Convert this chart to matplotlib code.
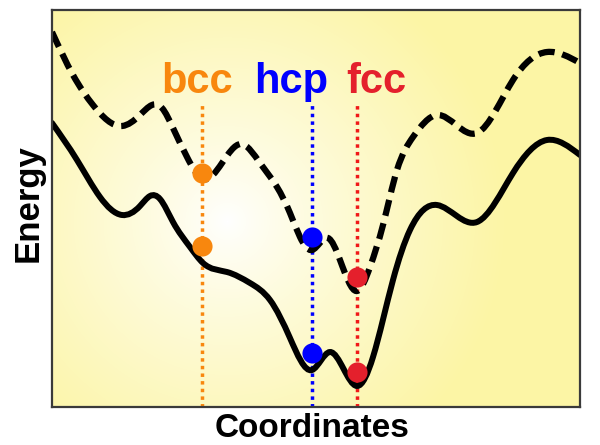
import numpy as np
import matplotlib
matplotlib.use('Agg')
import matplotlib.pyplot as plt
from matplotlib.path import Path
from matplotlib.patches import PathPatch

plt.rcParams['font.family'] = ['Liberation Sans', 'DejaVu Sans']

# energy landscape (x: coordinate, y: energy)
dash_x = [0, 21, 41, 70, 88, 100, 110, 121, 135, 151, 189, 208, 225, 238, 248, 260,
          276, 288, 305, 318, 331, 345, 361, 385, 425, 461, 495, 528]
dash_y = [375, 332, 302, 281, 292, 302, 299, 279, 250, 228, 263, 244, 220, 194, 170, 157,
          169, 147, 116, 140, 182, 237, 270, 292, 274, 327, 355, 344]

solid_x = [0, 25, 48, 70, 88, 98, 108, 121, 138, 151, 175, 198, 218, 238, 260,
           278, 305, 321, 341, 358, 385, 425, 461, 495, 528]
solid_y = [284, 247, 210, 192, 201, 211, 208, 185, 160, 144, 135, 124, 107, 69, 37,
           55, 21, 50, 127, 177, 202, 185, 234, 267, 252]

phases = ['bcc', 'hcp', 'fcc']
phase_x = [150, 260, 305]
upper_e = [234, 170, 130]
lower_e = [161, 54, 35]
label_x = [145, 239, 324]
marker_colors = ['#F8870E', '#0000FF', '#E4202C']
line_colors = ['#F8870E', '#0000FF', '#F01818']


def spline_path(xs, ys):
    # natural cubic spline through the points, drawn as bezier segments
    x = np.array(xs, float)
    y = np.array(ys, float)
    n = len(x)
    h = np.diff(x)
    A = np.zeros((n, n))
    b = np.zeros(n)
    A[0, 0] = A[-1, -1] = 1
    for i in range(1, n - 1):
        A[i, i - 1] = h[i - 1]
        A[i, i] = 2 * (h[i - 1] + h[i])
        A[i, i + 1] = h[i]
        b[i] = 6 * ((y[i + 1] - y[i]) / h[i] - (y[i] - y[i - 1]) / h[i - 1])
    M = np.linalg.solve(A, b)
    m = np.zeros(n)
    m[:-1] = np.diff(y) / h - h * (2 * M[:-1] + M[1:]) / 6
    m[-1] = (y[-1] - y[-2]) / h[-1] + h[-1] * (M[-2] + 2 * M[-1]) / 6
    verts = [(x[0], y[0])]
    codes = [Path.MOVETO]
    for i in range(n - 1):
        verts += [(x[i] + h[i] / 3, y[i] + m[i] * h[i] / 3),
                  (x[i + 1] - h[i] / 3, y[i + 1] - m[i + 1] * h[i] / 3),
                  (x[i + 1], y[i + 1])]
        codes += [Path.CURVE4] * 3
    return Path(verts, codes)


fig = plt.figure(figsize=(6, 4.45), dpi=100)
ax = fig.add_axes([52 / 600, 38 / 445, 528 / 600, 397 / 445])
ax.set_xlim(0, 528)
ax.set_ylim(0, 397)

# radial white -> yellow background
gx, gy = np.meshgrid(np.arange(528), np.arange(397))
d = np.hypot(gx - 175, gy - 185)
t = np.clip(d / 280, 0, 1) ** 0.85
yellow = np.array([252, 245, 165]) / 255
bg = (1 - t[..., None]) * np.ones(3) + t[..., None] * yellow
ax.imshow(bg, extent=(0, 528, 0, 397), origin='lower', aspect='auto', zorder=0)

for x, c in zip(phase_x, line_colors):
    ax.plot([x, x], [0, 302], color=c, lw=2.5, linestyle=(0, (1, 1.2)), zorder=1)

ax.add_patch(PathPatch(spline_path(dash_x, dash_y), fill=False, lw=4.5, color='black',
                       linestyle=(0, (2.6, 1.25)), capstyle='butt', zorder=2))
ax.add_patch(PathPatch(spline_path(solid_x, solid_y), fill=False, lw=4.3, color='black',
                       capstyle='round', zorder=2))

for x, e1, e2, c in zip(phase_x, upper_e, lower_e, marker_colors):
    ax.plot([x, x], [e1, e2], 'o', ms=14.5, color=c, mec='none', zorder=3)

for name, x, c in zip(phases, label_x, marker_colors):
    ax.text(x, 314, name, color=c, fontsize=30, fontweight='bold', ha='center', va='baseline')

ax.set_xticks([])
ax.set_yticks([])
for s in ax.spines.values():
    s.set_color('#3a3a3a')
    s.set_linewidth(1.6)

fig.text(312 / 600, 1 - 437 / 445, 'Coordinates', fontsize=24, fontweight='bold',
         ha='center', va='baseline')
fig.text(28 / 600, 1 - 203 / 445, 'Energy', fontsize=25, fontweight='bold',
         rotation=90, ha='center', va='center')

fig.savefig('out.png', dpi=100)
